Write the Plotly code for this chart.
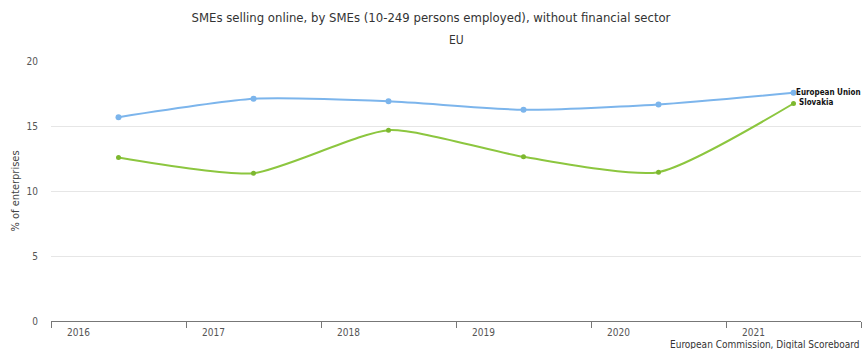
import plotly.graph_objects as go

years = ["2016", "2017", "2018", "2019", "2020", "2021"]
eu_values = [15.68, 17.09, 16.9, 16.25, 16.65, 17.55]
sk_values = [12.58, 11.37, 14.68, 12.63, 11.45, 16.73]
series_names = ["European Union", "Slovakia"]
y_ticks = [0, 5, 10, 15, 20]

FONT = "Liberation Sans Narrow, Arial Narrow, DejaVu Sans Condensed, sans-serif"
x_idx = list(range(len(years)))

fig = go.Figure()
fig.add_trace(go.Scatter(
    x=x_idx, y=eu_values, mode="lines+markers", name=series_names[0],
    line=dict(color="#7CB5EC", width=2, shape="spline", smoothing=0.6),
    marker=dict(size=6, color="#7CB5EC"), showlegend=False))
fig.add_trace(go.Scatter(
    x=x_idx, y=sk_values, mode="lines+markers", name=series_names[1],
    line=dict(color="#8CC63F", width=2, shape="spline", smoothing=0.6),
    marker=dict(size=5, color="#7DB82F"), showlegend=False))

annotations = []
for i, yr in enumerate(years):
    annotations.append(dict(x=i - 0.3, y=0, xref="x", yref="paper", text=yr,
                            showarrow=False, yanchor="middle", yshift=-11,
                            font=dict(family=FONT, size=10, color="#555555")))
annotations.append(dict(x=x_idx[-1], y=eu_values[-1], xref="x", yref="y",
                        text="<b>" + series_names[0] + "</b>", showarrow=False,
                        xanchor="left", xshift=0, yshift=0,
                        font=dict(family=FONT, size=8, color="#111111")))
annotations.append(dict(x=x_idx[-1], y=sk_values[-1], xref="x", yref="y",
                        text="<b>" + series_names[1] + "</b>", showarrow=False,
                        xanchor="left", xshift=3, yshift=1,
                        font=dict(family=FONT, size=8, color="#111111")))
annotations.append(dict(x=1, y=0, xref="paper", yref="paper",
                        text="European Commission, Digital Scoreboard",
                        showarrow=False, xanchor="right", yanchor="top", yshift=-16,
                        font=dict(family=FONT, size=10, color="#333333")))
annotations.append(dict(x=0.5, y=1, xref="paper", yref="paper", text="EU",
                        showarrow=False, yanchor="bottom", yshift=12,
                        font=dict(family=FONT, size=12, color="#333333")))

fig.update_layout(
    width=862, height=349,
    margin=dict(l=51, r=1, t=61, b=28),
    paper_bgcolor="white", plot_bgcolor="white",
    title=dict(text="SMEs selling online, by SMEs (10-249 persons employed), without financial sector",
               x=0.5, xanchor="center", y=0.95, yanchor="middle",
               font=dict(family=FONT, size=13, color="#333333")),
    xaxis=dict(range=[-0.5, 5.5], tickvals=[i - 0.5 for i in range(len(years) + 1)],
               showticklabels=False, ticks="outside", ticklen=6, tickcolor="#777777",
               showgrid=False, zeroline=False, showline=True, linecolor="#777777",
               linewidth=1),
    yaxis=dict(range=[0, 20], tickvals=y_ticks, showgrid=True, gridcolor="#e6e6e6",
               zeroline=False, showline=False, ticks="", ticklabelstandoff=12,
               tickfont=dict(family=FONT, size=10, color="#555555"),
               title=dict(text="% of enterprises", standoff=4,
                          font=dict(family=FONT, size=11, color="#444444"))),
    annotations=annotations,
)

fig.write_html("out.html")
